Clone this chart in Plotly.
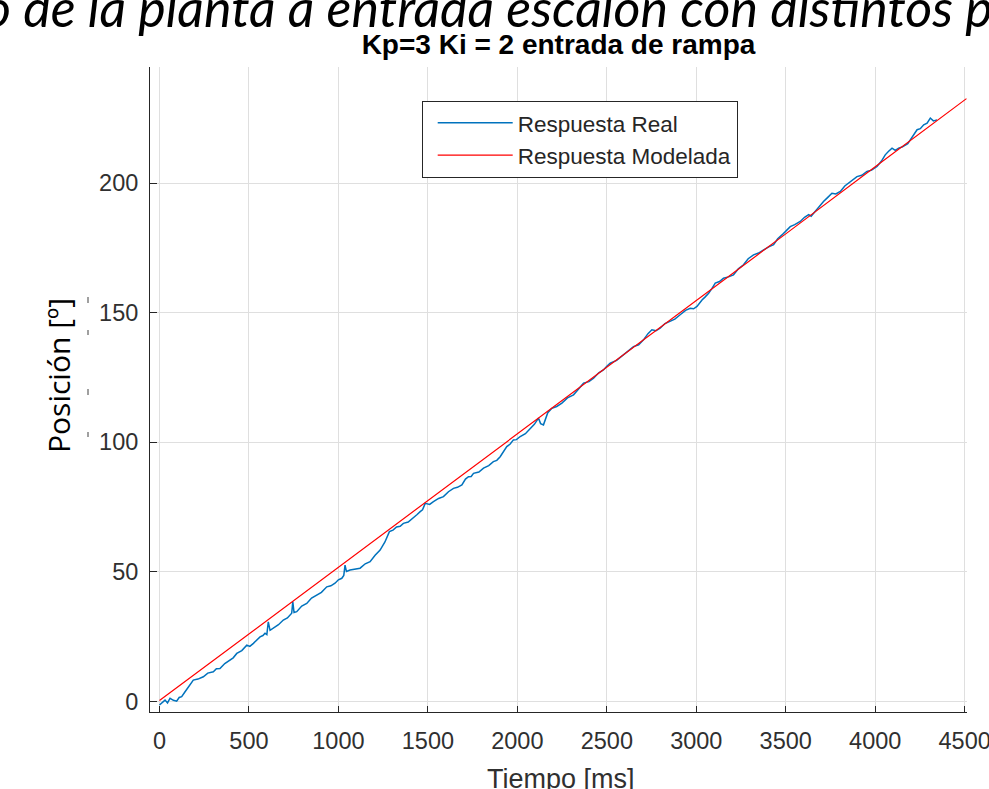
import plotly.graph_objects as go

# ---- data ----
t_real = [0, 15, 31, 45, 59, 78, 96, 110, 124, 142, 161, 175, 189, 215, 245, 270, 301, 318, 338, 365,
          394, 412, 432, 460, 488, 505, 525, 545, 562, 578, 590, 600, 608, 618, 636, 665, 692, 715, 739, 745,
          752, 767, 795, 823, 850, 879, 905, 935, 958, 981, 1000, 1019, 1030, 1037, 1045, 1065, 1092, 1121, 1150, 1177,
          1205, 1233, 1260, 1285, 1305, 1325, 1345, 1363, 1390, 1419, 1440, 1457, 1470, 1485, 1510, 1531, 1560, 1587, 1615, 1643,
          1665, 1690, 1710, 1727, 1742, 1755, 1785, 1811, 1840, 1866, 1885, 1904, 1920, 1941, 1960, 1978, 1995, 2016, 2045, 2072,
          2095, 2118, 2130, 2146, 2170, 2193, 2220, 2249, 2280, 2314, 2340, 2370, 2400, 2426, 2455, 2481, 2500, 2519, 2555, 2593,
          2620, 2649, 2678, 2705, 2730, 2752, 2775, 2798, 2825, 2854, 2880, 2910, 2940, 2966, 2985, 3004, 3018, 3032, 3050, 3069,
          3088, 3106, 3130, 3152, 3180, 3208, 3235, 3264, 3290, 3320, 3348, 3376, 3405, 3432, 3455, 3479, 3500, 3525, 3550, 3581,
          3605, 3628, 3642, 3656, 3685, 3711, 3735, 3758, 3780, 3805, 3830, 3851, 3875, 3898, 3925, 3954, 3980, 4010, 4035, 4056,
          4075, 4094, 4112, 4131, 4150, 4168, 4182, 4196, 4215, 4234, 4252, 4271, 4290, 4308, 4325, 4346]
y_real = [-1.4, -0.3, 0.5, -0.6, 1.2, 0.4, 0.1, 1.5, 1.8, 3.6, 5.6, 7.0, 8.2, 8.6, 9.5, 10.9, 11.4, 12.6, 12.7, 14.6,
          15.9, 16.8, 18.5, 19.6, 21.7, 21.2, 22.4, 23.6, 24.9, 25.4, 26.3, 25.8, 30.7, 27.4, 28.2, 29.6, 31.4, 32.2, 34.0, 38.5,
          34.3, 34.6, 36.8, 37.8, 39.9, 41.0, 42.1, 44.2, 44.6, 45.6, 46.9, 47.5, 48.6, 52.6, 50.1, 50.7, 50.9, 51.4, 53.1, 53.9,
          56.4, 58.4, 61.5, 65.5, 66.1, 67.3, 67.6, 68.7, 69.2, 70.7, 72.1, 73.2, 73.9, 76.4, 76.0, 77.1, 78.3, 79.0, 80.9, 82.2,
          82.6, 83.5, 85.8, 86.7, 86.8, 88.0, 88.5, 90.0, 91.0, 92.5, 93.0, 94.4, 96.1, 98.3, 99.3, 100.9, 101.0, 102.2, 103.3, 105.4,
          106.9, 109.3, 107.2, 106.7, 111.4, 113.1, 113.8, 115.1, 117.1, 118.3, 120.2, 122.8, 123.4, 124.7, 126.8, 127.9, 129.3, 130.5, 131.6, 133.7,
          135.1, 136.9, 137.6, 139.5, 141.9, 143.4, 143.0, 144.0, 145.8, 146.6, 147.5, 149.2, 150.9, 151.7, 151.5, 152.4, 153.9, 154.9, 156.1, 157.5,
          159.4, 161.4, 162.0, 163.3, 163.8, 164.6, 166.9, 168.5, 170.8, 172.3, 173.0, 174.2, 175.4, 176.2, 178.5, 180.0, 181.3, 183.2, 184.0, 185.2,
          186.8, 187.8, 187.2, 188.4, 190.6, 192.9, 194.5, 196.1, 195.8, 196.8, 198.9, 200.0, 201.0, 202.5, 203.0, 204.5, 205.0, 206.4, 208.5, 210.9,
          212.3, 213.5, 212.6, 213.5, 213.9, 214.8, 215.2, 216.7, 218.9, 220.6, 221.0, 222.5, 223.1, 225.1, 224.0, 224.4]

t_model = [0, 500, 1000, 1500, 2000, 2500, 3000, 3500, 4000, 4510]
y_model = [0.3, 26.0, 51.7, 77.4, 103.0, 128.8, 154.6, 180.4, 206.3, 232.6]

x_ticks = [0, 500, 1000, 1500, 2000, 2500, 3000, 3500, 4000, 4500]
y_ticks = [0, 50, 100, 150, 200]

series_names = ["Respuesta Real", "Respuesta Modelada"]
chart_title = "Kp=3 Ki = 2 entrada de rampa"
x_label = "Tiempo [ms]"
y_label = "Posición [º]"
slide_title = "o de la planta a entrada escalón con distintos p"

# ---- figure ----
W, H = 989, 789
L, R, T, B = 150, 22, 67, 77
pw, ph = W - L - R, H - T - B


def px(xp):
    return (xp - L) / pw


def py(yp):
    return (H - B - yp) / ph


fig = go.Figure()
fig.add_trace(go.Scatter(x=t_real, y=y_real, mode="lines", name=series_names[0],
                         line=dict(color="#0072BD", width=1.5)))
fig.add_trace(go.Scatter(x=t_model, y=y_model, mode="lines", name=series_names[1],
                         line=dict(color="#FF0000", width=1.2)))

SANS = "Liberation Sans, Arial, sans-serif"
tick_font = dict(family=SANS, size=23.5, color="#303030")
axis_common = dict(showline=True, linecolor="#262626", linewidth=1, mirror=False,
                   ticks="inside", tickcolor="#262626", tickwidth=1,
                   showgrid=True, gridcolor="#dfdfdf", gridwidth=1, zeroline=False,
                   tickfont=tick_font, automargin=False, ticklabeloverflow="allow")

fig.update_layout(
    width=W, height=H,
    margin=dict(l=L, r=R, t=T, b=B, pad=0),
    paper_bgcolor="white", plot_bgcolor="white",
    showlegend=True,
    legend=dict(x=px(421.7), y=py(100.7), xanchor="left", yanchor="top",
                bgcolor="white", bordercolor="#262626", borderwidth=1,
                font=dict(family=SANS, size=22.5, color="#262626"),
                itemwidth=75, tracegroupgap=0, indentation=10),
    title=dict(text="<b>" + chart_title + "</b>", x=0.5, xref="paper", xanchor="center",
               y=1 - 44 / H, yref="container", yanchor="middle",
               font=dict(family=SANS, size=28, color="#000000")),
    xaxis=dict(range=[-53, 4513], tickvals=x_ticks, ticklen=6, ticklabelstandoff=8,
               **axis_common),
    yaxis=dict(range=[-4.1, 244.8], tickvals=y_ticks, ticklen=7, ticklabelstandoff=6,
               **axis_common),
)

# x axis title (placed as text so it can sit partly below the page edge like the reference)
fig.add_annotation(text=x_label, xref="paper", yref="paper",
                   x=px(561), y=py(779), xanchor="center", yanchor="middle", showarrow=False,
                   font=dict(family=SANS, size=27, color="#303030"))

# rotated y label (slide text box)
fig.add_annotation(text=y_label, textangle=-90, xref="paper", yref="paper",
                   x=px(58), y=py(376), xanchor="center", yanchor="middle", showarrow=False,
                   font=dict(family="Open Sans, Lato, sans-serif", size=30, color="#000000"))

# partially visible slide heading at the top
fig.add_annotation(text="<i>" + slide_title + "</i>", xref="paper", yref="paper",
                   x=px(-18), y=py(40), xanchor="left", yanchor="bottom", showarrow=False,
                   font=dict(family="Lato, Noto Sans, sans-serif", size=52, color="#000000"))

# small leftover dashes next to the y label
for y0, y1 in [(297, 303), (330, 335), (389, 395), (432, 437)]:
    fig.add_shape(type="line", xref="paper", yref="paper",
                  x0=px(88), x1=px(88), y0=py(y0), y1=py(y1),
                  line=dict(color="#808080", width=1.5))

# page has the default 8px body margin; remove it so the figure fills the window
fig.write_html("out.html", config={"displayModeBar": False},
               post_script="document.body.style.margin='0px';")
